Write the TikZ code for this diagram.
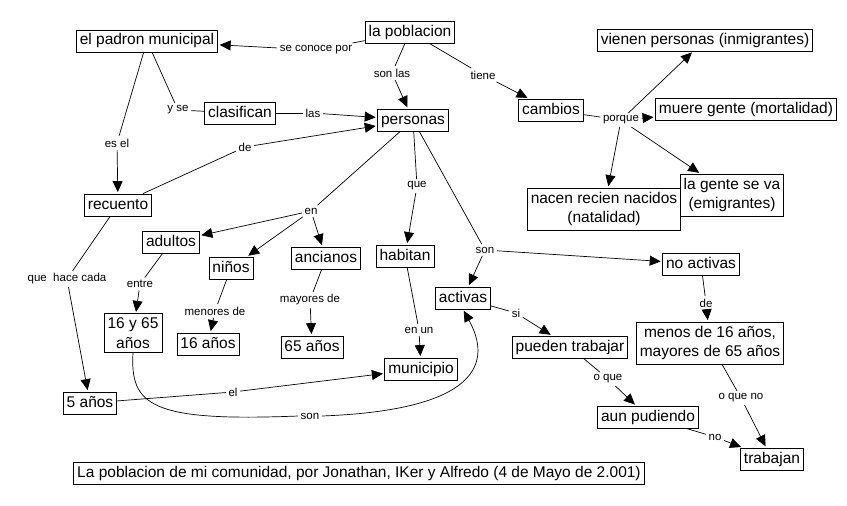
\documentclass[tikz,border=0pt]{standalone}
\usepackage{fontspec}
\setmainfont{Liberation Sans}
\usetikzlibrary{arrows.meta}
\begin{document}
\begin{tikzpicture}[x=1pt,y=-1pt,
 box/.style={draw, line width=0.8pt, font=\fontsize{15.5}{19}\selectfont, inner xsep=3.5pt, inner ysep=3.5pt, text height=11.5pt, text depth=3.5pt},
 mbox/.style={draw, line width=0.8pt, font=\fontsize{15.5}{19.5}\selectfont, inner xsep=3.5pt, inner ysep=4pt, align=center},
 lab/.style={font=\fontsize{11.5}{13}\selectfont, inner sep=2.5pt},
 ln/.style={line width=0.7pt},
 arr/.style={line width=0.7pt, -{Triangle[length=11pt,width=10pt]}, shorten >=1.5pt}]
\fill[white] (0,0) rectangle (847,506);
\useasboundingbox (0,0) rectangle (847,506);
% concept nodes
\node[box] (pob) at (410,32) {la poblacion};
\node[box] (pad) at (147,41) {el padron municipal};
\node[box] (cla) at (240,113) {clasifican};
\node[box] (per) at (413,120) {personas};
\node[box] (rec) at (118,205) {recuento};
\node[box] (cam) at (551,110) {cambios};
\node[box] (vie) at (705,40) {vienen personas (inmigrantes)};
\node[box] (mue) at (746,109) {muere gente (mortalidad)};
\node[mbox] (emi) at (732,195) {la gente se va\\(emigrantes)};
\node[mbox] (nac) at (604,209) {nacen recien nacidos\\(natalidad)};
\node[box] (adu) at (171,242) {adultos};
\node[box] (nin) at (231,268) {niños};
\node[box] (anc) at (326,258) {ancianos};
\node[box] (hab) at (405,256) {habitan};
\node[box] (act) at (463,298) {activas};
\node[mbox] (e16) at (133,333) {16 y 65\\años};
\node[box] (a16) at (208,344) {16 años};
\node[box] (a65) at (312,347) {65 años};
\node[box] (mun) at (421,369) {municipio};
\node[box] (a5) at (90,403) {5 años};
\node[box] (noa) at (701,264) {no activas};
\node[mbox] (men) at (710,343) {menos de 16 años,\\mayores de 65 años};
\node[box] (pue) at (570,347) {pueden trabajar};
\node[box] (aun) at (648,417) {aun pudiendo};
\node[box] (tra) at (772,459) {trabajan};
\node[box] (cap) at (359,473) {La poblacion de mi comunidad, por Jonathan, IKer y Alfredo (4 de Mayo de 2.001)};
% linking labels
\node[lab] (lsc) at (316,50) {se conoce por};
\node[lab] (lsl) at (392,73) {son las};
\node[lab] (lti) at (483,75) {tiene};
\node[lab] (lys) at (178,110) {y se};
\node[lab] (lla) at (313,113) {las};
\node[lab] (les) at (117,143) {es el};
\node[lab] (lde) at (245,147) {de};
\node[lab] (lqu) at (417,186) {que};
\node[lab] (len) at (311,211) {en};
\node[lab] (lso) at (485,250) {son};
\node[lab] (lpo) at (621,120) {porque};
\node[lab] (lhc) at (67,279) {que\ \ hace cada};
\node[lab] (lnt) at (140,284) {entre};
\node[lab] (lme) at (215,311) {menores de};
\node[lab] (lma) at (310,300) {mayores de};
\node[lab] (leu) at (419,330) {en un};
\node[lab] (lel) at (233,392) {el};
\node[lab] (ls2) at (310,416) {son};
\node[lab] (lsi) at (516,313) {si};
\node[lab] (ld2) at (706,303) {de};
\node[lab] (loq) at (608,379) {o que};
\node[lab] (lqn) at (741,398) {o que no};
\node[lab] (lno) at (715,437) {no};
% connectors
\draw[ln] (pob) -- (lsc); \draw[arr] (lsc) -- (pad);
\draw[ln] (pob) -- (lsl); \draw[arr] (lsl) -- (per);
\draw[ln] (pob) -- (lti); \draw[arr] (lti) -- (cam);
\draw[ln] (pad) -- (lys); \draw[ln] (lys) -- (cla);
\draw[ln] (cla) -- (lla); \draw[arr] (lla) -- (per);
\draw[ln] (pad) -- (les); \draw[arr] (les) -- (rec);
\draw[ln] (rec) -- (lde); \draw[arr] (lde) -- (per);
\draw[ln] (per) -- (lqu); \draw[arr] (lqu) -- (hab);
\draw[ln] (per) -- (len); \draw[arr] (len) -- (adu); \draw[arr] (len) -- (nin); \draw[arr] (len) -- (anc);
\draw[ln] (per) -- (lso); \draw[arr] (lso) -- (act); \draw[arr] (lso) -- (noa);
\draw[ln] (cam) -- (lpo); \draw[arr] (lpo) -- (vie); \draw[arr] (lpo) -- (mue); \draw[arr] (lpo) -- (emi); \draw[arr] (lpo) -- (nac);
\draw[ln] (rec) -- (lhc); \draw[arr] (lhc) -- (a5);
\draw[ln] (adu) -- (lnt); \draw[arr] (lnt) -- (e16);
\draw[ln] (nin) -- (lme); \draw[arr] (lme) -- (a16);
\draw[ln] (anc) -- (lma); \draw[arr] (lma) -- (a65);
\draw[ln] (hab) -- (leu); \draw[arr] (leu) -- (mun);
\draw[ln] (a5) -- (lel); \draw[arr] (lel) -- (mun);
\draw[ln] (e16.south) .. controls (130,405) and (150,422) .. (ls2.west);
\draw[arr] (ls2.east) .. controls (480,410) and (492,362) .. (act.south);
\draw[ln] (act) -- (lsi); \draw[arr] (lsi) -- (pue);
\draw[ln] (noa) -- (ld2); \draw[arr] (ld2) -- (men);
\draw[ln] (pue) -- (loq); \draw[arr] (loq) -- (aun);
\draw[ln] (men) -- (lqn); \draw[arr] (lqn) -- (tra);
\draw[ln] (aun) -- (lno); \draw[arr] (lno) -- (tra);
\end{tikzpicture}
\end{document}
